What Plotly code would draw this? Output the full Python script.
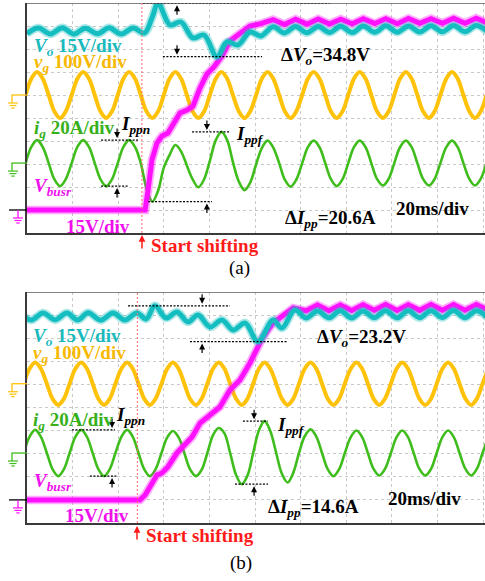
import plotly.graph_objects as go

W, H = 485, 581

# Channel sensitivities
VO_SCALE = 15.0    # V/div
VG_SCALE = 100.0   # V/div
IG_SCALE = 20.0    # A/div
VB_SCALE = 15.0    # V/div
TIME_DIV = 20      # ms/div

# ---------------- (a) ----------------
SHIFT_A = 50.4  # ms, start of shifting

# line-frequency sample instants (ms), eight per mains period
T_A = [-0.6, 1.9, 4.4, 6.9, 9.5, 12.0, 14.5, 17.0,
       19.6, 22.1, 24.6, 27.2, 29.7, 32.2, 34.7, 37.3,
       39.8, 42.3, 44.8, 47.4, 49.9, 52.4, 55.0, 57.5,
       60.0, 62.5, 65.1, 67.6, 70.1, 72.6, 75.2, 77.7,
       80.2, 82.8, 85.3, 87.8, 90.3, 92.9, 95.4, 97.9,
       100.5, 103.0, 105.5, 108.0, 110.6, 113.1, 115.6, 118.1,
       120.7, 123.2, 125.7, 128.3, 130.8, 133.3, 135.8, 138.4,
       140.9, 143.4, 145.9, 148.5, 151.0, 153.5, 156.1, 158.6,
       161.1, 163.6, 166.2, 168.7, 171.2, 173.7, 176.3, 178.8,
       181.3, 183.9, 186.4, 188.9, 191.4, 194.0, 196.5, 199.0,
       201.5]
VG_A = [0, 71, 100, 71, 0, -71, -100, -71,
        0, 71, 100, 71, 0, -71, -100, -71,
        0, 71, 100, 71, 0, -71, -100, -71,
        0, 71, 100, 71, 0, -71, -100, -71,
        0, 71, 100, 71, 0, -71, -100, -71,
        0, 71, 100, 71, 0, -71, -100, -71,
        0, 71, 100, 71, 0, -71, -100, -71,
        0, 71, 100, 71, 0, -71, -100, -71,
        0, 71, 100, 71, 0, -71, -100, -71,
        0, 71, 100, 71, 0, -71, -100, -71,
        0]
IG_A = [0, 14, 20, 14, 0, -14, -20, -14,
        0, 14, 20, 14, 0, -14, -20, -14,
        0, 14, 20, 14, 0, -22, -33.5, -24,
        -4, 7, 15.7, 10, -2, -14, -21, -14,
        2, 20, 27.1, 20, 1, -16, -23.5, -17,
        -1, 13, 19.5, 13.5, 0, -14.5, -20.5, -14.5,
        0, 13.8, 19.5, 13.8, 0, -14, -20, -14,
        0, 13.8, 19.5, 13.8, 0, -13.8, -19.5, -13.8,
        0, 13.8, 19.5, 13.8, 0, -13.8, -19.5, -13.8,
        0, 13.8, 19.5, 13.8, 0, -13.8, -19.5, -13.8,
        0]

T_VO_A = [0.0, 5.0, 10.3, 15.5, 20.6, 25.5, 31.0, 36.0, 41.3, 46.5,
          51.5, 54.8, 57.5, 62.7, 67.5, 72.8, 77.6, 83.3, 87.7, 92.5,
          97.8, 102.6, 107.9, 112.9, 117.8, 122.8, 127.7, 132.7, 137.6, 142.6,
          147.5, 152.5, 157.4, 162.4, 167.3, 172.3, 177.2, 182.2, 187.1, 192.1,
          197.0, 202.0]
VO_A = [130.0, 133.7, 129.8, 133.9, 129.7, 133.6, 129.9, 133.8, 129.8, 133.7,
        130.4, 140.2, 149.8, 135.7, 137.6, 127.2, 129.1, 115.0, 124.6, 122.6,
        131.1, 128.5, 134.5, 130.5, 134.7, 130.6, 134.6, 130.8, 134.9, 130.7,
        135.0, 130.9, 135.1, 131.0, 135.0, 131.1, 135.2, 131.2, 135.3, 131.2,
        135.4, 131.3]

T_VB_A = [0.0, 51.8, 53.1, 54.8, 57.0, 59.2, 61.8, 64.0, 67.1, 70.2,
          72.8, 75.9, 78.9, 82.0, 85.5, 89.0, 93.4, 97.8, 102.6, 107.9,
          112.9, 117.8, 122.8, 127.7, 132.7, 137.6, 142.6, 147.5, 152.5, 157.4,
          162.4, 167.3, 172.3, 177.2, 182.2, 187.1, 192.1, 197.0, 202.0]
VB_A = [0, 0, 13.0, 32.6, 43.7, 48.3, 50.2, 55.4, 63.3, 65.2,
        67.8, 79.6, 88.7, 93.3, 100.4, 110.2, 115.4, 120.0, 121.5, 124.2,
        121.0, 124.4, 121.2, 124.6, 121.3, 124.5, 121.4, 124.8, 121.6, 124.7,
        121.5, 124.9, 121.7, 124.8, 121.8, 125.0, 121.8, 125.1, 121.9]

# ---------------- (b) ----------------
SHIFT_B = 48.4

T_B = [-1.4, 1.1, 3.6, 6.1, 8.7, 11.2, 13.7, 16.2,
       18.7, 21.2, 23.8, 26.3, 28.8, 31.3, 33.8, 36.3,
       38.8, 41.4, 43.9, 46.4, 48.9, 51.4, 53.9, 56.4,
       59.0, 61.5, 64.0, 66.5, 69.0, 71.5, 74.1, 76.6,
       79.1, 81.6, 84.1, 86.6, 89.1, 91.7, 94.2, 96.7,
       99.2, 101.7, 104.2, 106.7, 109.3, 111.8, 114.3, 116.8,
       119.3, 121.8, 124.4, 126.9, 129.4, 131.9, 134.4, 136.9,
       139.4, 142.0, 144.5, 147.0, 149.5, 152.0, 154.5, 157.0,
       159.6, 162.1, 164.6, 167.1, 169.6, 172.1, 174.7, 177.2,
       179.7, 182.2, 184.7, 187.2, 189.7, 192.3, 194.8, 197.3,
       199.8, 202.3]
VG_B = [0, 65, 92, 65, 0, -65, -92, -65,
        0, 65, 92, 65, 0, -65, -92, -65,
        0, 65, 92, 65, 0, -65, -92, -65,
        0, 65, 92, 65, 0, -65, -92, -65,
        0, 65, 92, 65, 0, -65, -92, -65,
        0, 65, 92, 65, 0, -65, -92, -65,
        0, 65, 92, 65, 0, -65, -92, -65,
        0, 65, 92, 65, 0, -65, -92, -65,
        0, 65, 92, 65, 0, -65, -92, -65,
        0, 65, 92, 65, 0, -65, -92, -65,
        0, 65]
IG_B = [0, 14, 20, 14, 0, -14, -20, -14,
        0, 14, 20, 14, 0, -14, -20, -14,
        0, 14, 20, 14, 0, -14, -20, -14,
        0, 13.5, 19, 13.5, 0, -14, -20, -14.5,
        0, 15.5, 21.6, 17, 0, -19, -27.0, -19.5,
        0, 19.5, 27.6, 19, 0, -18, -25.5, -17,
        0, 14.5, 20.5, 14.2, 0, -14, -20, -14,
        0, 13.8, 19.5, 13.8, 0, -13.8, -19.5, -13.8,
        0, 13.8, 19.5, 13.8, 0, -13.8, -19.5, -13.8,
        0, 13.8, 19.5, 13.8, 0, -13.8, -19.5, -13.8,
        0, 13.8]

T_VO_B = [-3.2, 1.8, 7.0, 12.3, 17.5, 22.2, 26.8, 32.3, 37.7, 43.0,
          48.2, 52.3, 56.1, 61.0, 65.8, 70.6, 75.0, 80.3, 85.5, 90.4,
          95.6, 101.3, 107.9, 111.8, 117.5, 122.4, 127.4, 132.4, 137.4, 142.4,
          147.4, 152.3, 157.3, 162.3, 167.2, 172.2, 177.2, 182.2, 187.1, 192.1,
          197.1, 202.1]
VO_B = [136.4, 131.8, 136.4, 131.9, 136.3, 131.8, 136.5, 131.7, 136.4, 131.8,
        136.4, 132.5, 141.0, 133.1, 137.0, 130.5, 135.1, 127.3, 131.8, 125.3,
        129.9, 117.8, 131.8, 126.6, 138.3, 133.1, 137.7, 133.2, 137.8, 133.1,
        137.7, 133.3, 137.9, 133.2, 137.8, 133.3, 137.9, 133.4, 138.0, 133.3,
        137.9, 133.4]

T_VB_B = [0.0, 49.6, 51.8, 53.9, 57.0, 59.2, 61.8, 65.8, 68.4, 72.4,
          75.9, 80.3, 84.6, 89.0, 93.4, 97.8, 100.9, 103.5, 107.9, 114.0,
          116.7, 122.4, 127.4, 132.4, 137.4, 142.4, 147.4, 152.3, 157.3, 162.3,
          167.2, 172.2, 177.2, 182.2, 187.1, 192.1, 197.1, 202.1]
VB_B = [0, 0, 3.2, 8.4, 16.2, 17.5, 21.4, 30.5, 34.4, 40.8,
        49.9, 55.1, 60.3, 71.4, 77.9, 88.9, 97.4, 105.8, 114.9, 121.4,
        124.6, 122.8, 126.5, 122.9, 126.6, 123.0, 126.7, 123.1, 126.8, 123.0,
        126.7, 123.1, 126.9, 123.2, 126.8, 123.2, 126.9, 123.3]

# ---------------- styling / geometry ----------------
FONT = "Liberation Serif, Times New Roman, serif"
CYAN, CYAN_TXT = "#14BEC0", "#19B9BC"
YEL, YEL_TXT = "#FFC20A", "#F7B800"
GRN, GRN_TXT = "#3FBD1C", "#36B01A"
MAG, MAG_TXT = "#FF10FF", "#F010EE"
RED = "#FF1A1A"
GRID = "#C8C8C8"

X_LEFT = 27
PX_PER_MS = 456 / 200.0
X_MAX = (W - X_LEFT) / PX_PER_MS

PANELS = {
    "a": dict(xa="x", ya="y", top=3, bottom=233,
              gnd=dict(vo=0.0, vg=6.0, ig=3.04, vb=1.0)),
    "b": dict(xa="x2", ya="y2", top=292, bottom=523,
              gnd=dict(vo=0.0, vg=6.03, ig=3.03, vb=1.0)),
}


def px_per_div(p):
    return (p["bottom"] - p["top"]) / 10.0


def to_div(vals, g, scale):
    return [g + v / scale for v in vals]


fig = go.Figure()
shapes, annos = [], []


def add_waves(p, t_sine, vg, ig, t_vo, vo, t_vb, vb):
    g, xa, ya = p["gnd"], p["xa"], p["ya"]
    common = dict(mode="lines", xaxis=xa, yaxis=ya, hoverinfo="skip", showlegend=False)
    fig.add_trace(go.Scatter(x=t_sine, y=to_div(vg, g["vg"], VG_SCALE),
                             line=dict(color=YEL, width=4, shape="spline", smoothing=1.0), **common))
    fig.add_trace(go.Scatter(x=t_sine, y=to_div(ig, g["ig"], IG_SCALE),
                             line=dict(color=GRN, width=2.6, shape="spline", smoothing=1.0), **common))
    yb = to_div(vb, g["vb"], VB_SCALE)
    fig.add_trace(go.Scatter(x=t_vb, y=yb, opacity=0.35,
                             line=dict(color=MAG, width=8.5), **common))
    fig.add_trace(go.Scatter(x=t_vb, y=yb, line=dict(color=MAG, width=5), **common))
    yo = to_div(vo, g["vo"], VO_SCALE)
    fig.add_trace(go.Scatter(x=t_vo, y=yo, opacity=0.35,
                             line=dict(color=CYAN, width=8.5, shape="spline", smoothing=1.0), **common))
    fig.add_trace(go.Scatter(x=t_vo, y=yo,
                             line=dict(color=CYAN, width=5, shape="spline", smoothing=1.0), **common))


add_waves(PANELS["a"], T_A, VG_A, IG_A, T_VO_A, VO_A, T_VB_A, VB_A)
add_waves(PANELS["b"], T_B, VG_B, IG_B, T_VO_B, VO_B, T_VB_B, VB_B)


def dotted(p, t0, t1, yd):
    shapes.append(dict(type="line", xref=p["xa"], yref=p["ya"], x0=t0, x1=t1, y0=yd, y1=yd,
                       line=dict(color="black", width=1.2, dash="2px,1.5px")))


def arrow(p, t, yd, down):
    # head at (t, yd); tail 11 px above (pointing down) or below (pointing up)
    annos.append(dict(x=t, y=yd, xref=p["xa"], yref=p["ya"], text="", showarrow=True,
                      ax=0, ay=-11 if down else 11, arrowhead=2, arrowsize=1,
                      arrowwidth=1.2, arrowcolor="black"))


def split(t, v, shift):
    pre = [vv for tt, vv in zip(t, v) if tt < shift]
    post = [vv for tt, vv in zip(t, v) if tt > shift]
    return pre, post


def measurements(p, t_sine, ig, t_vo, vo, shift, spans, vo_outward):
    g = p["gnd"]
    d = 2.0 / px_per_div(p)
    ig_pre, ig_post = split(t_sine, ig, shift)
    _, vo_post = split(t_vo, vo, shift)
    vmax, vmin = max(vo_post), min(vo_post)
    ytop, ybot = g["vo"] + vmax / VO_SCALE, g["vo"] + vmin / VO_SCALE
    dotted(p, *spans["vo_top"], ytop)
    dotted(p, *spans["vo_bot"], ybot)
    if vo_outward:
        arrow(p, spans["vo_arrow"], ytop - d, down=False)
        arrow(p, spans["vo_arrow"], ybot + d, down=True)
    else:
        arrow(p, spans["vo_arrow"], ytop + d, down=True)
        arrow(p, spans["vo_arrow"], ybot - d, down=False)
    for key, vals in (("ippn", ig_pre), ("ippf", ig_post)):
        hi, lo = g["ig"] + max(vals) / IG_SCALE, g["ig"] + min(vals) / IG_SCALE
        dotted(p, *spans[key + "_top"], hi)
        dotted(p, *spans[key + "_bot"], lo)
        arrow(p, spans[key + "_arrow"], hi + d, down=True)
        arrow(p, spans[key + "_arrow"], lo - d, down=False)
    ippn = max(ig_pre) - min(ig_pre)
    ippf = max(ig_post) - min(ig_post)
    return vmax - vmin, ippf - ippn


SPANS_A = dict(vo_top=(50.9, 132.9), vo_bot=(59.6, 103.1), vo_arrow=65.8,
               ippn_top=(32.5, 48.7), ippn_bot=(32.5, 44.3), ippn_arrow=39.5,
               ippf_top=(72.4, 89.0), ippf_bot=(53.1, 81.1), ippf_arrow=78.9)
SPANS_B = dict(vo_top=(44.3, 89.0), vo_bot=(71.5, 114.5), vo_arrow=76.8,
               ippn_top=(19.7, 38.6), ippn_bot=(27.6, 39.5), ippn_arrow=37.3,
               ippf_top=(94.7, 105.7), ippf_bot=(91.2, 105.7), ippf_arrow=99.6)

dvo_a, dipp_a = measurements(PANELS["a"], T_A, IG_A, T_VO_A, VO_A, SHIFT_A, SPANS_A, True)
dvo_b, dipp_b = measurements(PANELS["b"], T_B, IG_B, T_VO_B, VO_B, SHIFT_B, SPANS_B, False)


# frame pieces, shift marker and probe ground symbols
def frame(p, shift):
    xa, ya = p["xa"], p["ya"]
    shapes.append(dict(type="line", xref="paper", yref=ya, x0=X_LEFT / W, x1=1, y0=10, y1=10,
                       line=dict(color="#5a5a5a", width=1.5)))
    shapes.append(dict(type="line", xref=xa, yref=ya, x0=shift, x1=shift, y0=0, y1=10,
                       line=dict(color="#FF6A6A", width=1, dash="2px,2px")))


def ground(p, gdiv, color, stem_x, lead_color=None, lead_x0=11.5):
    ya = p["ya"]
    k = 1.0 / px_per_div(p)
    shapes.append(dict(type="line", xref="paper", yref=ya, x0=lead_x0 / W, x1=X_LEFT / W,
                       y0=gdiv, y1=gdiv, line=dict(color=lead_color or color, width=1.3)))
    shapes.append(dict(type="line", xref="paper", yref=ya, x0=stem_x / W, x1=stem_x / W,
                       y0=gdiv, y1=gdiv - 8 * k, line=dict(color=color, width=1.3)))
    cx = stem_x + (1 if lead_color is None else 0)
    for off, wd in ((8, 10), (10.5, 7), (13, 3.5)):
        shapes.append(dict(type="line", xref="paper", yref=ya, x0=(cx - wd / 2) / W,
                           x1=(cx + wd / 2) / W, y0=gdiv - off * k, y1=gdiv - off * k,
                           line=dict(color=color, width=1.2)))


for key, shift in (("a", SHIFT_A), ("b", SHIFT_B)):
    p = PANELS[key]
    frame(p, shift)
    ground(p, p["gnd"]["vg"], YEL, 12)
    ground(p, p["gnd"]["ig"], GRN, 12)
    ground(p, p["gnd"]["vb"], MAG, 18, lead_color="black", lead_x0=9)


def text(xpx, ypx, s, color="black", size=19, anchor="left"):
    annos.append(dict(x=xpx / W, y=1 - ypx / H, xref="paper", yref="paper", text=s,
                      showarrow=False, xanchor=anchor, yanchor="middle",
                      font=dict(family=FONT, size=size, color=color)))


def red_arrow(xpx, y_head, y_tail):
    annos.append(dict(x=xpx / W, y=1 - y_head / H, xref="paper", yref="paper", text="",
                      showarrow=True, ax=0, ay=y_tail - y_head, arrowhead=2, arrowsize=0.9,
                      arrowwidth=1.5, arrowcolor=RED))


vo_lbl = f"<b><i>V<sub>o</sub></i> {VO_SCALE:g}V/div</b>"
vg_lbl = f"<b><i>v<sub>g</sub></i> {VG_SCALE:g}V/div</b>"
ig_lbl = f"<b><i>i<sub>g</sub></i> {IG_SCALE:g}A/div</b>"
vb_lbl = "<b><i>V<sub>busr</sub></i></b>"
vb_sc = f"<b>{VB_SCALE:g}V/div</b>"
ippn_lbl = "<b><i>I<sub>ppn</sub></i></b>"
ippf_lbl = "<b><i>I<sub>ppf</sub></i></b>"
tdiv = f"<b>{TIME_DIV}ms/div</b>"
start = "<b>Start shifting</b>"

# (a)
text(32, 47, vo_lbl, CYAN_TXT)
text(32, 63, vg_lbl, YEL_TXT)
text(32, 129, ig_lbl, GRN_TXT)
text(119, 125, ippn_lbl)
text(234, 135, ippf_lbl)
text(32, 187, vb_lbl, MAG_TXT)
text(64, 226, vb_sc, MAG_TXT)
text(279, 56, f"<b>Δ<i>V<sub>o</sub></i>={dvo_a:.1f}V</b>")
text(283, 219, f"<b>Δ<i>I<sub>pp</sub></i>={dipp_a:.1f}A</b>")
text(394, 209, tdiv)
text(149, 245, start, RED)
red_arrow(142, 235, 250)
text(239, 268, "(a)", "black", 19, "center")

# (b)
text(31, 337, vo_lbl, CYAN_TXT)
text(31, 354, vg_lbl, YEL_TXT)
text(31, 421, ig_lbl, GRN_TXT)
text(114, 416, ippn_lbl)
text(275, 426, ippf_lbl)
text(32, 482, vb_lbl, MAG_TXT)
text(63, 515, vb_sc, MAG_TXT)
text(315, 338, f"<b>Δ<i>V<sub>o</sub></i>={dvo_b:.1f}V</b>")
text(266, 508, f"<b>Δ<i>I<sub>pp</sub></i>={dipp_b:.1f}A</b>")
text(386, 498, tdiv)
text(144, 535, start, RED)
red_arrow(137, 526, 541)
text(241, 563, "(b)", "black", 19, "center")


def xaxis(anchor):
    return dict(domain=[X_LEFT / W, 1], range=[0, X_MAX], dtick=TIME_DIV, tick0=0,
                showgrid=True, gridcolor=GRID, griddash="dot", gridwidth=1,
                showticklabels=False, ticks="", zeroline=False, showline=True,
                linecolor="#3a3a3a", linewidth=2, anchor=anchor, fixedrange=True)


def yaxis(p, anchor):
    return dict(domain=[(H - p["bottom"]) / H, (H - p["top"]) / H], range=[0, 10], dtick=1,
                showgrid=True, gridcolor=GRID, griddash="dot", gridwidth=1,
                showticklabels=False, ticks="", zeroline=False, showline=True,
                linecolor="#3a3a3a", linewidth=2, anchor=anchor, fixedrange=True)


fig.update_layout(
    width=W, height=H, margin=dict(l=0, r=0, t=0, b=0),
    paper_bgcolor="white", plot_bgcolor="white",
    xaxis=xaxis("y"), yaxis=yaxis(PANELS["a"], "x"),
    xaxis2=xaxis("y2"), yaxis2=yaxis(PANELS["b"], "x2"),
    shapes=shapes, annotations=annos, showlegend=False,
    font=dict(family=FONT),
)

fig.write_html("out.html", config={"displayModeBar": False})
